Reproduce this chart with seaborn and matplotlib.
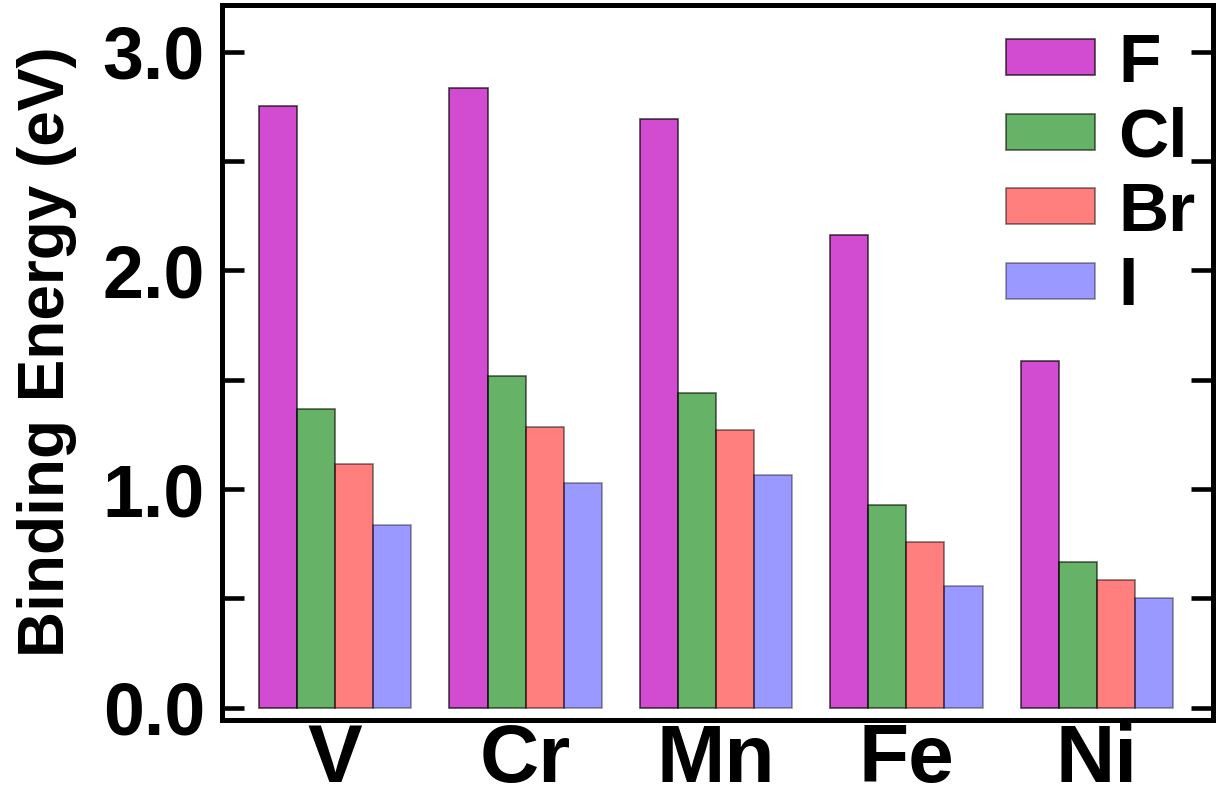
import matplotlib
matplotlib.use("Agg")
import matplotlib.pyplot as plt
import seaborn as sns
import pandas as pd
from matplotlib.ticker import FixedLocator

metals = ["V", "Cr", "Mn", "Fe", "Ni"]
halogens = ["F", "Cl", "Br", "I"]
F_vals = [2.753, 2.835, 2.693, 2.163, 1.587]
Cl_vals = [1.367, 1.518, 1.439, 0.928, 0.666]
Br_vals = [1.116, 1.286, 1.268, 0.758, 0.585]
I_vals = [0.837, 1.027, 1.065, 0.555, 0.504]
colors = ["#BF00BF", "#008000", "#FF0000", "#0000FF"]
alphas = [0.7, 0.6, 0.5, 0.4]
ytick_vals = [0.0, 1.0, 2.0, 3.0]
ytick_labels = ["0.0", "1.0", "2.0", "3.0"]
yminor_vals = [0.5, 1.5, 2.5]

series = {"F": F_vals, "Cl": Cl_vals, "Br": Br_vals, "I": I_vals}
rows = []
for h in halogens:
    for m, v in zip(metals, series[h]):
        rows.append({"metal": m, "halogen": h, "energy": v})
df = pd.DataFrame(rows)

sns.set_theme(style="white")
plt.rcParams["font.family"] = ["Liberation Sans", "DejaVu Sans"]
plt.rcParams["font.weight"] = "bold"
for k in ["text.color", "axes.labelcolor", "xtick.color", "ytick.color", "axes.edgecolor"]:
    plt.rcParams[k] = "black"

fig = plt.figure(figsize=(12.25, 7.99), dpi=100)
ax = fig.add_axes([0.181, 0.099, 0.809, 0.895])

sns.barplot(data=df, x="metal", y="energy", hue="halogen", order=metals,
            hue_order=halogens, palette=dict(zip(halogens, colors)),
            width=0.8, edgecolor="black", linewidth=1.2, saturation=1,
            errorbar=None, legend=False, ax=ax)

for cont, a in zip(ax.containers, alphas):
    for p in cont.patches:
        p.set_alpha(a)

ax.set_xlim(-0.596, 4.609)
ax.set_ylim(-0.055, 3.214)
ax.yaxis.set_major_locator(FixedLocator(ytick_vals))
ax.set_yticklabels(ytick_labels)
ax.yaxis.set_minor_locator(FixedLocator(yminor_vals))

for s in ax.spines.values():
    s.set_linewidth(3.6)
    s.set_color("black")
    s.set_visible(True)

ax.tick_params(axis="y", which="both", direction="in", left=True, right=True,
               length=16, width=3.3, color="black", pad=12, labelsize=53,
               labelcolor="black")
ax.tick_params(axis="x", which="both", bottom=False, top=False, labelsize=59,
               pad=-4, labelcolor="black")
for lab in ax.get_xticklabels() + ax.get_yticklabels():
    lab.set_fontweight("bold")

ax.set_xlabel("")
ax.set_ylabel("Binding Energy (eV)", fontsize=46, fontweight="bold", color="black")
ax.yaxis.set_label_coords(-0.146, 0.515)

leg = ax.legend(ax.containers, halogens, loc="upper right", frameon=False,
                bbox_to_anchor=(1.0, 0.986),
                prop={"size": 50, "weight": "bold"}, handlelength=1.28,
                handleheight=0.42, labelspacing=0.15, handletextpad=0.33,
                borderaxespad=0.0, borderpad=0.25)
for t in leg.get_texts():
    t.set_color("black")

fig.savefig("out.png", dpi=100)
